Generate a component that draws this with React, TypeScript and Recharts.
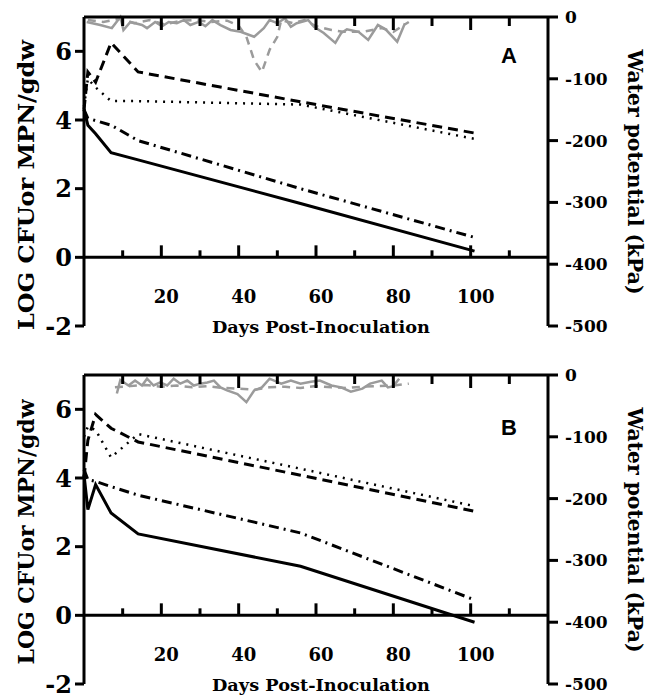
import { LineChart, Line, XAxis, YAxis, ReferenceLine } from "recharts"

const X_TICKS = [10, 20, 30, 40, 50, 60, 70, 80, 90, 100, 110]
const X_LABELS = [20, 40, 60, 80, 100]
const LEFT_TICKS = [-2, 0, 2, 4, 6]
const RIGHT_TICKS = [0, -100, -200, -300, -400, -500]

// sampling days of the cell counts (both panels)
const DAYS = [0, 1, 3, 7, 14, 56, 101]

// panel A, LOG CFU or MPN / gdw
const A_SOLID = [4.3, 3.85, 3.6, 3.05, 2.84, 1.57, 0.18]
const A_DASHDOT = [4.3, 4.05, 3.98, 3.85, 3.4, 2.0, 0.58]
const A_DASHED = [4.3, 5.4, 5.1, 6.25, 5.4, 4.53, 3.62]
const A_DOTTED = [4.4, 5.2, 4.95, 4.55, 4.55, 4.45, 3.45]

// panel B
const B_SOLID = [4.1, 3.08, 3.81, 2.98, 2.37, 1.43, -0.2]
const B_DASHDOT = [4.25, 3.95, 3.9, 3.75, 3.5, 2.4, 0.45]
const B_DASHED = [4.0, 5.1, 5.85, 5.45, 5.05, 4.08, 3.03]
const B_DOTTED = [5.2, 5.5, 5.4, 4.6, 5.28, 4.27, 3.18]

// water potential (kPa), panel A
const A_WP_SOLID_DAYS = [0.7, 4.2, 7.2, 9.4, 10.2, 12, 15, 16.3, 18.4, 20.2, 21.9, 24, 25.8, 27.5, 29.7, 31.4, 33.2, 35.3, 37.9, 40.5, 44, 46.5, 48, 50, 52, 53.5, 55, 58, 59.5, 62, 65, 66.5, 68, 71, 73.5, 76, 78, 81, 83]
const A_WP_SOLID = [-8, -13, -18, 0, -21, -8, -13, -18, -8, -15, -8, -10, -5, -13, -8, -15, -5, -13, -21, -24, -32, -18, -5, -10, -2, -16, -10, -5, -16, -26, -42, -26, -20, -24, -37, -13, -20, -40, -10]
const A_WP_DASHED_DAYS = [1, 5, 9, 13, 17, 21, 25, 29, 33, 37, 40, 42, 44, 46, 48, 50, 51, 54, 57, 60, 64, 67, 72, 77, 80, 84]
const A_WP_DASHED = [-5, -8, -3, -10, -5, -12, -6, -5, -8, -6, -14, -32, -70, -89, -53, -32, -5, -10, -5, -15, -21, -24, -24, -18, -24, -8]

// water potential (kPa), panel B
const B_WP_SOLID_DAYS = [8.5, 9.4, 11.5, 13.2, 15, 16.3, 18, 19.7, 21.5, 23.2, 24.9, 26.7, 28.4, 30.1, 31.9, 33.6, 35.3, 37, 39.7, 42, 44, 46, 48, 51, 53.5, 56, 58.7, 61, 64, 66.5, 69, 72, 74, 77, 78.6, 80, 81.5]
const B_WP_SOLID = [-30, -8, -17, -9, -17, -6, -17, -12, -17, -6, -14, -9, -17, -14, -12, -9, -20, -25, -31, -44, -25, -20, -6, -14, -9, -14, -11, -9, -17, -20, -27, -22, -14, -9, -20, -18, -6]
const B_WP_DASHED_DAYS = [8, 12, 16, 20, 24, 28, 32, 36, 40, 44, 48, 52, 56, 60, 64, 68, 72, 76, 80, 84]
const B_WP_DASHED = [-20, -18, -16, -19, -17, -20, -18, -21, -22, -24, -20, -19, -21, -18, -20, -21, -19, -18, -17, -14]

const W = 657
const H = 340
const LEFT_W = 84
const RIGHT_W = 109
// bottom x axis takes 1px, so the plot runs from y=17 to y=326
const M = { top: 17, right: 0, bottom: 13, left: 0 }
const X_MAX = 120
const Y_MIN = -2
const Y_MAX = 7
const PLOT_H = H - M.top - M.bottom - 1
const PLOT_W = W - LEFT_W - RIGHT_W
const ZERO_FROM_BOTTOM = (PLOT_H * (0 - Y_MIN)) / (Y_MAX - Y_MIN)

const SERIF = "'DejaVu Serif', serif"
const GREY = "#9b9b9b"

const rows = (days: number[], vals: number[]) => days.map((day, i) => ({ day, v: vals[i] }))

// same linear mapping as the day axis, for the frame ticks
const dayX = (d: number) => LEFT_W + (d / X_MAX) * PLOT_W
const ZERO_Y = M.top + PLOT_H - ZERO_FROM_BOTTOM

// day labels sit under the y=0 line, not at the bottom of the plot
function DayLabel(props: any) {
  const { x, y, payload } = props
  if (!X_LABELS.includes(payload.value)) return <g />
  return (
    <text x={x + 5} y={y - ZERO_FROM_BOTTOM + 46} textAnchor="middle" fontFamily={SERIF} fontWeight="bold" fontSize={18} fill="#000">
      {payload.value}
    </text>
  )
}

interface PanelProps {
  letter: string
  letterY: number
  top: number
  solid: number[]
  dashdot: number[]
  dashed: number[]
  dotted: number[]
  wpSolid: { day: number; v: number }[]
  wpDashed: { day: number; v: number }[]
  leftTitleY: number
  leftTitleLen: number
}

function Panel(p: PanelProps) {
  const ids = { xAxisId: "bottom", yAxisId: "left" }
  const black = { stroke: "#000", strokeWidth: 3, dot: false, isAnimationActive: false, ...ids, dataKey: "v" }
  const grey = { stroke: GREY, strokeWidth: 2.5, dot: false, isAnimationActive: false, xAxisId: "bottom", yAxisId: "right", dataKey: "v" }
  return (
    <div style={{ position: "absolute", left: 0, top: p.top, width: W, height: H }}>
      <LineChart width={W} height={H} margin={M}>
        <XAxis
          xAxisId="bottom"
          type="number"
          dataKey="day"
          domain={[0, X_MAX]}
          ticks={X_TICKS}
          interval={0}
          height={1}
          axisLine={false}
          tickLine={false}
          tickSize={0}
          tickMargin={0}
          tick={DayLabel}
        />
        <YAxis
          yAxisId="left"
          domain={[Y_MIN, Y_MAX]}
          ticks={LEFT_TICKS}
          interval={0}
          width={LEFT_W}
          axisLine={{ stroke: "#000", strokeWidth: 3 }}
          tickLine={{ stroke: "#000", strokeWidth: 3 }}
          tickSize={9}
          tickMargin={3}
          tick={{ fontFamily: SERIF, fontWeight: "bold", fontSize: 24, fill: "#000" }}
        />
        <YAxis
          yAxisId="right"
          orientation="right"
          domain={[-500, 0]}
          ticks={RIGHT_TICKS}
          interval={0}
          width={RIGHT_W}
          axisLine={{ stroke: "#000", strokeWidth: 3 }}
          tickLine={{ stroke: "#000", strokeWidth: 3 }}
          tickSize={10}
          tickMargin={7}
          tick={{ fontFamily: SERIF, fontWeight: "bold", fontSize: 17, fill: "#000", textAnchor: "start" }}
        />
        <ReferenceLine {...ids} y={0} stroke="#000" strokeWidth={3} ifOverflow="visible" />
        <Line {...grey} data={p.wpSolid} />
        <Line {...grey} data={p.wpDashed} strokeDasharray="8 6" />
        <Line {...black} data={rows(DAYS, p.solid)} />
        <Line {...black} data={rows(DAYS, p.dashdot)} strokeDasharray="10 5 2 5" />
        <Line {...black} data={rows(DAYS, p.dashed)} strokeDasharray="10 6" />
        <Line {...black} data={rows(DAYS, p.dotted)} strokeDasharray="2 6" strokeWidth={2.5} />
      </LineChart>
      <svg width={W} height={H} style={{ position: "absolute", left: 0, top: 0, pointerEvents: "none" }}>
        {/* top edge of the frame, ticks on it and on the y=0 line */}
        <g stroke="#000" strokeWidth={3} fill="none">
          <line x1={LEFT_W} x2={W - RIGHT_W} y1={M.top} y2={M.top} />
          {X_TICKS.map((d) => {
            const major = X_LABELS.includes(d)
            return (
              <g key={d}>
                <line x1={dayX(d)} x2={dayX(d)} y1={M.top} y2={M.top + (major ? 13 : 9)} />
                <line x1={dayX(d)} x2={dayX(d)} y1={ZERO_Y} y2={ZERO_Y - (major ? 12 : 7)} />
              </g>
            )
          })}
        </g>
        <text
          transform={`translate(25, ${p.leftTitleY}) rotate(-90)`}
          textAnchor="middle"
          dominantBaseline="central"
          fontFamily={SERIF}
          fontWeight="bold"
          fontSize={23}
          textLength={p.leftTitleLen}
          lengthAdjust="spacingAndGlyphs"
        >
          LOG CFUor MPN/gdw
        </text>
        <text
          transform="translate(635, 172) rotate(90)"
          textAnchor="middle"
          dominantBaseline="central"
          fontFamily={SERIF}
          fontWeight="bold"
          fontSize={20}
          textLength={245}
          lengthAdjust="spacingAndGlyphs"
        >
          Water potential (kPa)
        </text>
        <text x={321} y={333} textAnchor="middle" fontFamily={SERIF} fontWeight="bold" fontSize={17} textLength={218} lengthAdjust="spacingAndGlyphs">
          Days Post-Inoculation
        </text>
        <text x={509} y={p.letterY} textAnchor="middle" fontFamily="'Liberation Sans', Arial, sans-serif" fontWeight="bold" fontSize={22}>
          {p.letter}
        </text>
      </svg>
    </div>
  )
}

export default function App() {
  return (
    <div style={{ position: "absolute", left: 0, top: 0, width: W, height: 698, overflow: "hidden", background: "#fff" }}>
      <Panel
        letter="A"
        letterY={63}
        top={0}
        solid={A_SOLID}
        dashdot={A_DASHDOT}
        dashed={A_DASHED}
        dotted={A_DOTTED}
        wpSolid={rows(A_WP_SOLID_DAYS, A_WP_SOLID)}
        wpDashed={rows(A_WP_DASHED_DAYS, A_WP_DASHED)}
        leftTitleY={185}
        leftTitleLen={290}
      />
      <Panel
        letter="B"
        letterY={77}
        top={358}
        solid={B_SOLID}
        dashdot={B_DASHDOT}
        dashed={B_DASHED}
        dotted={B_DOTTED}
        wpSolid={rows(B_WP_SOLID_DAYS, B_WP_SOLID)}
        wpDashed={rows(B_WP_DASHED_DAYS, B_WP_DASHED)}
        leftTitleY={174}
        leftTitleLen={265}
      />
    </div>
  )
}
